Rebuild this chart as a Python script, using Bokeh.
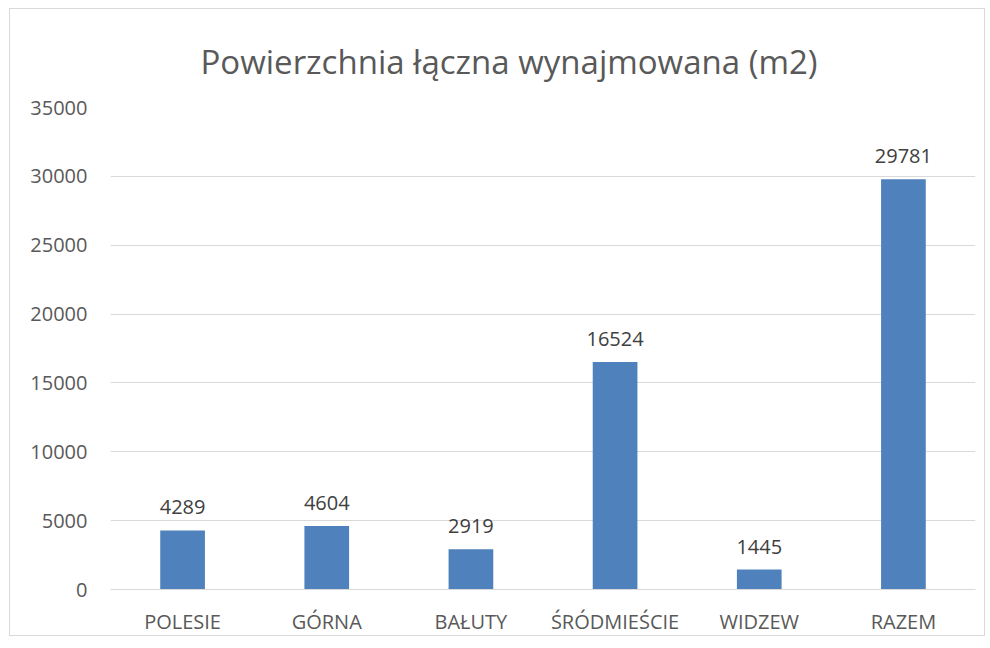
from bokeh.plotting import figure
from bokeh.models import ColumnDataSource, FixedTicker, LabelSet, Range1d
from bokeh.core.properties import value
from bokeh.embed import file_html
from bokeh.resources import INLINE

categories = ["POLESIE", "GÓRNA", "BAŁUTY", "ŚRÓDMIEŚCIE", "WIDZEW", "RAZEM"]
values = [4289, 4604, 2919, 16524, 1445, 29781]
y_ticks = [0, 5000, 10000, 15000, 20000, 25000, 30000, 35000]
title_text = "Powierzchnia łączna wynajmowana (m2)"

FONT = "Open Sans"
src = ColumnDataSource(dict(cat=categories, val=values, lbl=[str(v) for v in values]))

p = figure(x_range=categories, y_range=Range1d(0, 35000), width=976, height=628,
           output_backend="svg", toolbar_location=None,
           min_border_left=100, min_border_right=11, min_border_top=98, min_border_bottom=47)
p.styles = {"border": "1px solid #d9d9d9", "margin-left": "9px", "margin-top": "8px"}

p.title.text = title_text
p.title.align = "left"
p.title.text_font = FONT
p.title.text_font_size = "33px"
p.title.text_font_style = "normal"
p.title.text_color = "#595959"
p.title.offset = 90
p.title.standoff = 48

p.vbar(x="cat", top="val", width=0.31, source=src, color="#4F81BD", line_color=None)

labels = LabelSet(x="cat", y="val", text="lbl", source=src, y_offset=16,
                  text_align="center", text_baseline="bottom",
                  text_font_size="20px", text_color="#404040", text_font=value(FONT))
p.add_layout(labels)

p.outline_line_color = None
p.xgrid.grid_line_color = None
p.ygrid.grid_line_color = "#D9D9D9"
p.ygrid.grid_line_width = 1
p.yaxis.ticker = FixedTicker(ticks=y_ticks)

p.yaxis.axis_line_color = None
p.yaxis.major_tick_line_color = None
p.yaxis.minor_tick_line_color = None
p.yaxis.major_label_text_font = FONT
p.yaxis.major_label_text_font_size = "20px"
p.yaxis.major_label_text_color = "#595959"
p.yaxis.major_label_standoff = 17

p.xaxis.axis_line_color = "#D9D9D9"
p.xaxis.major_tick_line_color = None
p.xaxis.minor_tick_line_color = None
p.xaxis.major_label_text_font = FONT
p.xaxis.major_label_text_font_size = "20px"
p.xaxis.major_label_text_color = "#595959"
p.xaxis.major_label_standoff = 12

open("out.html", "w").write(file_html(p, INLINE))
